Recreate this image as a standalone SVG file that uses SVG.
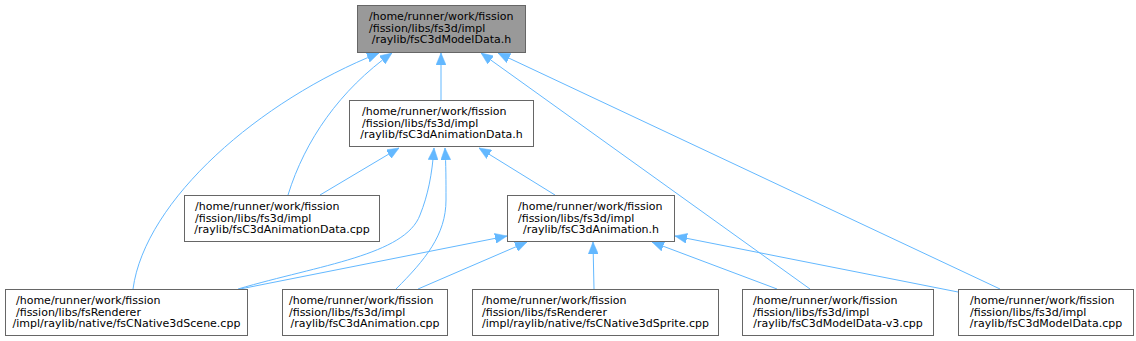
<svg xmlns="http://www.w3.org/2000/svg" width="1136" height="341" viewBox="0 0 1136 341">
<style>
.box{fill:#ffffff;stroke:#666666;stroke-width:1}
.root{fill:#999999;stroke:#666666;stroke-width:1}
text{font-family:"DejaVu Sans",sans-serif;font-size:11px;text-anchor:start;fill:#000000}
text.c{text-anchor:middle}
.edge{fill:none;stroke:#63b8ff;stroke-width:1;marker-end:url(#arr)}
</style>
<defs>
<marker id="arr" viewBox="0 0 12 10" refX="12" refY="5" markerWidth="12" markerHeight="10" markerUnits="userSpaceOnUse" orient="auto">
<path d="M0,0 L12,5 L0,10 Z" fill="#63b8ff" stroke="#63b8ff" stroke-width="0.5"/>
</marker>
</defs>
<rect width="1136" height="341" fill="#ffffff"/>
<g id="connectors">
<path class="edge" d="M133,289 C145,200 260,100 379,53"/>
<path class="edge" d="M288,195 C305,140 340,90 392,53"/>
<path class="edge" d="M441,100 L441,53"/>
<path class="edge" d="M810,289 L481,53"/>
<path class="edge" d="M1000,289 L498,53"/>
<path class="edge" d="M320,195 L399,148"/>
<path class="edge" d="M238,289 C320,265 405,255 420,215 C428,195 432,175 434,148"/>
<path class="edge" d="M396,289 C425,260 446,235 446,200 C446,180 446,165 445,148"/>
<path class="edge" d="M555,195 L479,148"/>
<path class="edge" d="M240,289 L507,236"/>
<path class="edge" d="M418,289 L527,242"/>
<path class="edge" d="M594,289 L593,242"/>
<path class="edge" d="M777,289 L652,242"/>
<path class="edge" d="M958,292 L675,236"/>
</g>
<g id="node_root">
<rect class="root" x="357.5" y="5.5" width="168" height="47"/>
<text x="369" y="19.8">/home/runner/work/fission</text>
<text x="369" y="31.5">/fission/libs/fs3d/impl</text>
<text class="c" x="441.5" y="43.2">/raylib/fsC3dModelData.h</text>
</g>
<g id="node_animdata_h">
<rect class="box" x="349.5" y="100.5" width="184" height="46"/>
<text x="362" y="114.8">/home/runner/work/fission</text>
<text x="362" y="126.5">/fission/libs/fs3d/impl</text>
<text class="c" x="441.5" y="138.2">/raylib/fsC3dAnimationData.h</text>
</g>
<g id="node_animdata_cpp">
<rect class="box" x="184.5" y="195.5" width="195" height="46"/>
<text x="195" y="209.8">/home/runner/work/fission</text>
<text x="195" y="221.5">/fission/libs/fs3d/impl</text>
<text class="c" x="282" y="233.2">/raylib/fsC3dAnimationData.cpp</text>
</g>
<g id="node_anim_h">
<rect class="box" x="507.5" y="195.5" width="167" height="46"/>
<text x="518" y="209.8">/home/runner/work/fission</text>
<text x="518" y="221.5">/fission/libs/fs3d/impl</text>
<text class="c" x="591" y="233.2">/raylib/fsC3dAnimation.h</text>
</g>
<g id="node_scene_cpp">
<rect class="box" x="5.5" y="289.5" width="242" height="46"/>
<text x="16" y="303.8">/home/runner/work/fission</text>
<text x="16" y="315.5">/fission/libs/fsRenderer</text>
<text class="c" x="126.5" y="327.2">/impl/raylib/native/fsCNative3dScene.cpp</text>
</g>
<g id="node_anim_cpp">
<rect class="box" x="282.5" y="289.5" width="165" height="46"/>
<text x="289" y="303.8">/home/runner/work/fission</text>
<text x="289" y="315.5">/fission/libs/fs3d/impl</text>
<text class="c" x="365" y="327.2">/raylib/fsC3dAnimation.cpp</text>
</g>
<g id="node_sprite_cpp">
<rect class="box" x="472.5" y="289.5" width="246" height="46"/>
<text x="482" y="303.8">/home/runner/work/fission</text>
<text x="482" y="315.5">/fission/libs/fsRenderer</text>
<text class="c" x="595.5" y="327.2">/impl/raylib/native/fsCNative3dSprite.cpp</text>
</g>
<g id="node_modeldata_v3_cpp">
<rect class="box" x="742.5" y="289.5" width="191" height="46"/>
<text x="753" y="303.8">/home/runner/work/fission</text>
<text x="753" y="315.5">/fission/libs/fs3d/impl</text>
<text class="c" x="838" y="327.2">/raylib/fsC3dModelData-v3.cpp</text>
</g>
<g id="node_modeldata_cpp">
<rect class="box" x="958.5" y="289.5" width="175" height="46"/>
<text x="970" y="303.8">/home/runner/work/fission</text>
<text x="970" y="315.5">/fission/libs/fs3d/impl</text>
<text class="c" x="1046" y="327.2">/raylib/fsC3dModelData.cpp</text>
</g>
</svg>
